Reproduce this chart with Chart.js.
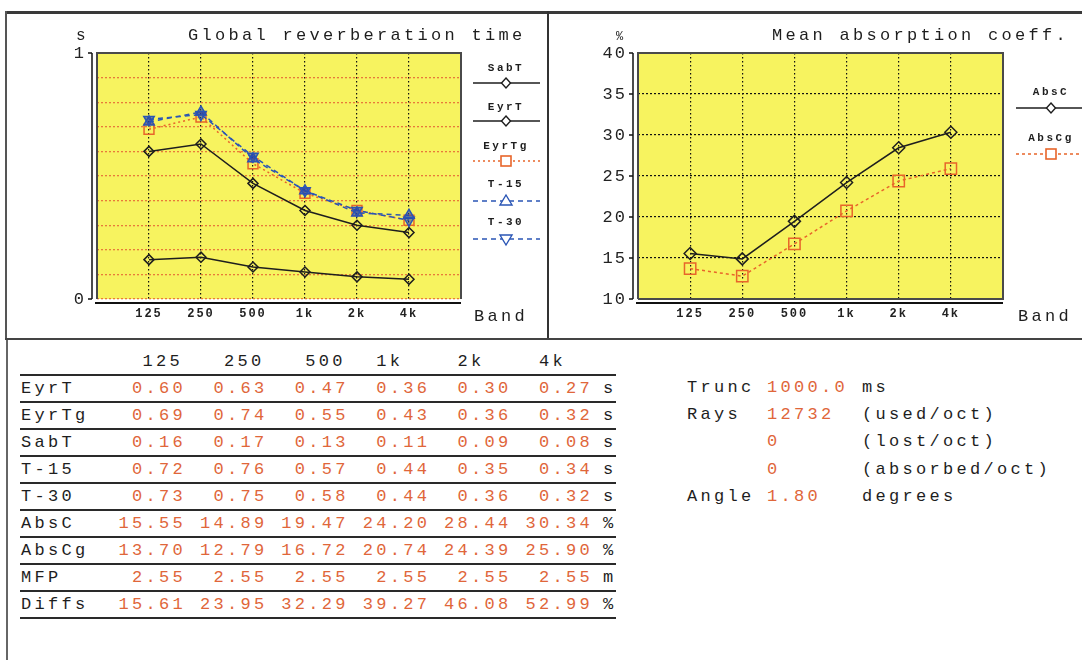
<!DOCTYPE html>
<html><head><meta charset="utf-8">
<script src="https://cdn.jsdelivr.net/npm/chart.js@4/dist/chart.umd.min.js"></script>
<style>
html,body{margin:0;padding:0}
body{width:1082px;height:660px;background:#fff;position:relative;overflow:hidden;font-family:"Liberation Mono",monospace;color:#1e1e1e}
.t{position:absolute;white-space:nowrap;font-family:"Liberation Mono",monospace;font-size:17px;letter-spacing:3.3px;height:20px;line-height:20px}
.ln{position:absolute;background:#2a2a2a}
.v{color:#e0663a}
.lg{position:absolute;white-space:nowrap;font-family:"Liberation Mono",monospace;font-size:11px;font-weight:bold;letter-spacing:2.5px;height:14px;line-height:14px;text-align:center}
canvas{position:absolute}
svg{position:absolute;overflow:visible}
</style></head><body>
<canvas id="c1" width="548" height="340" style="left:0;top:0"></canvas>
<canvas id="c2" width="534" height="340" style="left:548px;top:0"></canvas>
<script>
// ---- data ----
const bands = ['125','250','500','1k','2k','4k'];
const EyrT  = [0.60,0.63,0.47,0.36,0.30,0.27];
const EyrTg = [0.69,0.74,0.55,0.43,0.36,0.32];
const SabT  = [0.16,0.17,0.13,0.11,0.09,0.08];
const T15   = [0.72,0.76,0.57,0.44,0.35,0.34];
const T30   = [0.73,0.75,0.58,0.44,0.36,0.32];
const AbsC  = [15.55,14.89,19.47,24.20,28.44,30.34];
const AbsCg = [13.70,12.79,16.72,20.74,24.39,25.90];
const MFP   = [2.55,2.55,2.55,2.55,2.55,2.55];
const Diffs = [15.61,23.95,32.29,39.27,46.08,52.99];
const rowNames = ['EyrT','EyrTg','SabT','T-15','T-30','AbsC','AbsCg','MFP','Diffs'];
const rowUnits = ['s','s','s','s','s','%','%','m','%'];
const rowData  = [EyrT,EyrTg,SabT,T15,T30,AbsC,AbsCg,MFP,Diffs];
const infoLabels = ['Trunc','Rays','','','Angle'];
const infoValues = ['1000.0','12732','0','0','1.80'];
const infoUnits  = ['ms','(used/oct)','(lost/oct)','(absorbed/oct)','degrees'];

const yellow='#f7f35f', orange='#e8652a', blue='#2a55b5', black='#1e1e1e';
const xy = arr => arr.map((v,i)=>({x:i+1,y:v}));

const framePlugin = {
  id:'frame',
  beforeUpdate(chart,args,opts){ chart.ctx.letterSpacing = opts.spacing; },
  beforeDraw(chart,args,opts){
    const {ctx,chartArea:a}=chart;
    ctx.letterSpacing = opts.spacing;
    ctx.save(); ctx.fillStyle=opts.bg; ctx.fillRect(a.left,a.top,a.right-a.left,a.bottom-a.top); ctx.restore();
  },
  afterDraw(chart,args,opts){
    const {ctx,chartArea:a,scales}=chart;
    ctx.save();
    ctx.setLineDash([]);
    ctx.strokeStyle='#4a4a4a'; ctx.lineWidth=2;
    ctx.beginPath(); ctx.moveTo(a.left,a.bottom); ctx.lineTo(a.left,a.top); ctx.lineTo(a.right,a.top); ctx.lineTo(a.right,a.bottom);
    if(opts.closeBottom) ctx.lineTo(a.left,a.bottom);
    ctx.stroke();
    const ax=a.left-5;
    ctx.strokeStyle='#111'; ctx.lineWidth=1.5;
    ctx.beginPath(); ctx.moveTo(ax,a.top); ctx.lineTo(ax,a.bottom);
    scales.y.ticks.forEach(t=>{ if(t.label!==''){ const py=scales.y.getPixelForValue(t.value); ctx.moveTo(ax-4,py); ctx.lineTo(ax,py);} });
    ctx.stroke();
    ctx.lineWidth=2; ctx.beginPath(); ctx.moveTo(a.left-2,a.bottom+4); ctx.lineTo(a.right,a.bottom+4); ctx.stroke();
    ctx.restore();
  }
};

function xScale(){
  return {type:'linear',min:0,max:7,
    afterFit(s){s.height=28;},
    border:{display:false,dash:[1.5,2.5]},
    grid:{drawTicks:false,lineWidth:1.2,color:c=>(c.tick&&c.tick.value>=1&&c.tick.value<=6)?'#111':'transparent'},
    ticks:{stepSize:1,autoSkip:false,maxRotation:0,padding:8,color:'#222',font:{family:'Liberation Mono',size:12,weight:'bold'},
      callback:v=>bands[v-1]??''}};
}
function lineDs(label,data,color,dash,style,radius,extra){
  return Object.assign({label,data:xy(data),borderColor:color,borderWidth:1.5,borderDash:dash,pointStyle:style,pointRadius:radius,
    pointBorderColor:color,pointBorderWidth:1.5,pointBackgroundColor:'rgba(0,0,0,0)',fill:false,tension:0},extra||{});
}

new Chart(document.getElementById('c1'),{
  type:'line',
  data:{datasets:[
    lineDs('T-30',T30,blue,[5,4],'triangle',6,{rotation:180,pointBackgroundColor:'rgba(40,70,170,0.55)'}),
    lineDs('T-15',T15,blue,[5,4],'triangle',6,{pointBackgroundColor:'rgba(40,70,170,0.55)'}),
    lineDs('EyrTg',EyrTg,orange,[2,3],'rect',7),
    lineDs('EyrT',EyrT,black,[],'rectRot',5),
    lineDs('SabT',SabT,black,[],'rectRot',5)
  ]},
  options:{responsive:false,animation:false,
    layout:{padding:{left:67,right:87,top:53,bottom:13}},
    plugins:{legend:{display:false},tooltip:{enabled:false},frame:{bg:yellow,spacing:'2px',closeBottom:false}},
    scales:{
      x:xScale(),
      y:{min:0,max:1,afterFit(s){s.width=30;},
        border:{display:false,dash:[2,2]},
        grid:{drawTicks:false,lineWidth:1.3,color:c=>(c.tick&&c.tick.value>=0.999)?'transparent':'#e87a3a'},
        ticks:{stepSize:0.1,autoSkip:false,padding:11,color:'#222',font:{family:'Liberation Mono',size:17},
          callback:v=>(Math.abs(v)<1e-9||Math.abs(v-1)<1e-9)?String(Math.round(v)):''}}
    }},
  plugins:[framePlugin]
});

new Chart(document.getElementById('c2'),{
  type:'line',
  data:{datasets:[
    lineDs('AbsC',AbsC,black,[],'rectRot',6),
    lineDs('AbsCg',AbsCg,orange,[3,3],'rect',8)
  ]},
  options:{responsive:false,animation:false,
    layout:{padding:{left:54,right:79,top:53,bottom:13}},
    plugins:{legend:{display:false},tooltip:{enabled:false},frame:{bg:yellow,spacing:'2px',closeBottom:true}},
    scales:{
      x:xScale(),
      y:{min:10,max:40,afterFit(s){s.width=36;},
        border:{display:false,dash:[2,2]},
        grid:{drawTicks:false,lineWidth:1.2,color:c=>(c.tick&&(c.tick.value<=10||c.tick.value>=40))?'transparent':'#111'},
        ticks:{stepSize:5,autoSkip:false,padding:11,color:'#222',font:{family:'Liberation Mono',size:17}}}
    }},
  plugins:[framePlugin]
});

// ---- overlay text / frames ----
const B=document.body;
function el(cls,txt,style){const d=document.createElement('div');d.className=cls;if(txt!==null)d.textContent=txt;Object.assign(d.style,style);B.appendChild(d);return d;}
function hline(x1,x2,y,h,c){el('ln',null,{left:x1+'px',top:y+'px',width:(x2-x1)+'px',height:(h||2)+'px',background:c||'#2a2a2a'});}
function vline(x,y1,y2,w,c){el('ln',null,{left:x+'px',top:y1+'px',width:(w||2)+'px',height:(y2-y1)+'px',background:c||'#2a2a2a'});}

// frames
hline(5,1082,11,3,'#3a3a3a');
vline(5,11,340,2,'#555');
vline(547,11,340,2,'#333');
hline(5,1082,338,2,'#444');
vline(6,340,660,2,'#666');

// titles and axis labels
el('t','Global reverberation time',{left:'188px',top:'26px'});
el('t','Mean absorption coeff.',{left:'772px',top:'26px'});
el('t','s',{left:'76px',top:'26px',fontSize:'16px'});
el('t','%',{left:'616px',top:'27px',fontSize:'12px'});
el('t','Band',{left:'474px',top:'307px'});
el('t','Band',{left:'1018px',top:'307px'});

// legends
function legend(cx,ly,lineY,x1,x2,name,color,dash,marker){
  el('lg',name,{left:(cx-40)+'px',top:(ly-7)+'px',width:'80px'});
  const ns='http://www.w3.org/2000/svg';
  const s=document.createElementNS(ns,'svg');
  s.setAttribute('width',x2-x1);s.setAttribute('height',16);
  s.style.left=x1+'px';s.style.top=(lineY-8)+'px';
  const mx=cx-x1;
  let html=`<line x1="0" y1="8" x2="${x2-x1}" y2="8" stroke="${color}" stroke-width="1.5" ${dash?`stroke-dasharray="${dash}"`:''}/>`;
  if(marker==='diamond') html+=`<polygon points="${mx},3 ${mx+4.5},8 ${mx},13 ${mx-4.5},8" fill="#fff" stroke="${color}" stroke-width="1.4"/>`;
  if(marker==='square') html+=`<rect x="${mx-5}" y="3" width="10" height="10" fill="#fff" stroke="${color}" stroke-width="1.6"/>`;
  if(marker==='tri') html+=`<polygon points="${mx},2 ${mx+6},12 ${mx-6},12" fill="#fff" stroke="${color}" stroke-width="1.4"/>`;
  if(marker==='trid') html+=`<polygon points="${mx-6},4 ${mx+6},4 ${mx},14" fill="#fff" stroke="${color}" stroke-width="1.4"/>`;
  s.innerHTML=html;B.appendChild(s);
}
legend(506,68,83,473,540,'SabT',black,'', 'diamond');
legend(506,107,121,473,540,'EyrT',black,'', 'diamond');
legend(506,146,161,473,540,'EyrTg',orange,'2 3','square');
legend(506,184,201,473,540,'T-15',blue,'5 4','tri');
legend(506,222,239,473,540,'T-30',blue,'5 4','trid');
legend(1051,92,108,1016,1084,'AbsC',black,'','diamond');
legend(1051,138,154,1016,1084,'AbsCg',orange,'3 3','square');

// table
const colRight = c => 183 + c*81.4;
bands.forEach((b,c)=>{
  const pad = b.length<3 ? 24 : 0;
  el('t',b,{left:(colRight(c)-120)+'px',width:'120px',textAlign:'right',top:(362-10)+'px',paddingRight:pad+'px',boxSizing:'border-box',marginRight:'-3px'});
});
hline(20,616,374,2);
rowNames.forEach((n,r)=>{
  const cy=388.5+27*r;
  el('t',n,{left:'21px',top:(cy-10)+'px'});
  rowData[r].forEach((v,c)=>{
    el('t v',v.toFixed(2),{left:(colRight(c)-120+3)+'px',width:'120px',textAlign:'right',top:(cy-10)+'px'});
  });
  el('t',rowUnits[r],{left:'603px',top:(cy-10)+'px'});
  hline(20,616,401+27*r,2);
});

// info block
infoLabels.forEach((l,i)=>{
  const cy=388+27.2*i;
  if(l) el('t',l,{left:'687px',top:(cy-10)+'px'});
  el('t v',infoValues[i],{left:'767px',top:(cy-10)+'px'});
  el('t',infoUnits[i],{left:'862px',top:(cy-10)+'px'});
});
</script>
</body></html>
